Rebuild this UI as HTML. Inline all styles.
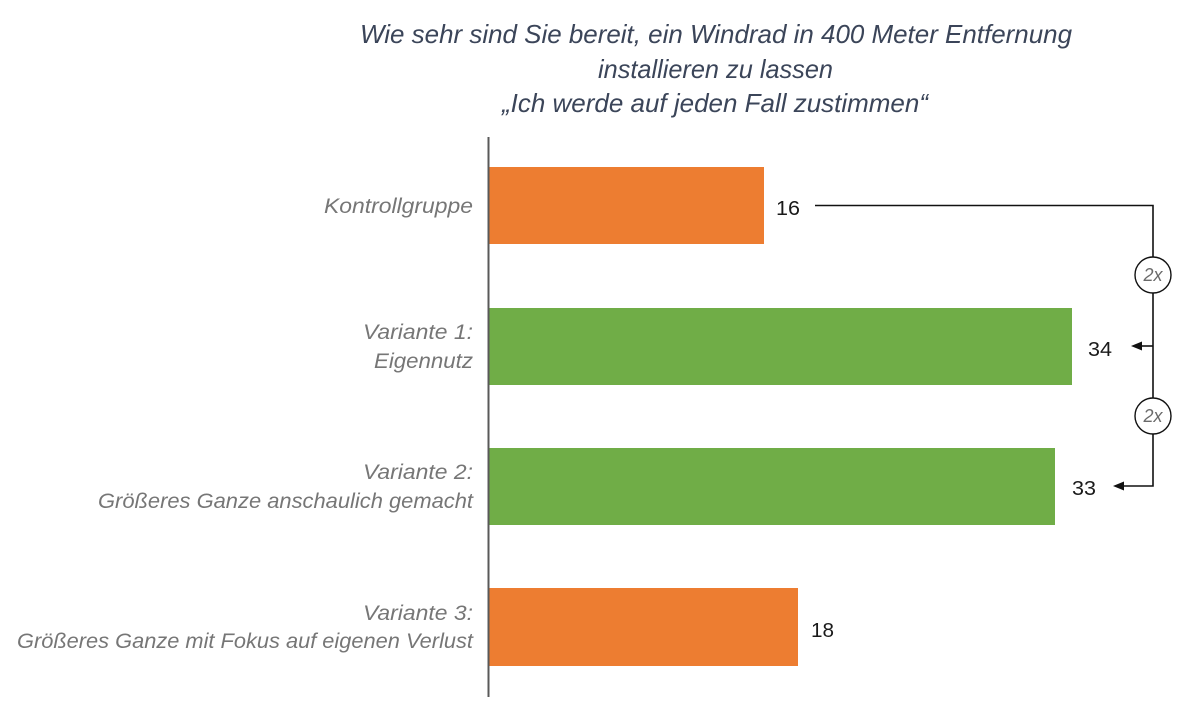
<!DOCTYPE html>
<html>
<head>
<meta charset="utf-8">
<style>
  html, body { margin: 0; padding: 0; background: #ffffff; }
  body { width: 1178px; height: 709px; overflow: hidden; }
  svg { display: block; }
  .title { font-family: "Liberation Sans", sans-serif; font-style: italic; font-size: 26px; fill: #3b4559; }
  .lab { font-family: "Liberation Sans", sans-serif; font-style: italic; font-size: 21px; fill: #767676; }
  .num { font-family: "Liberation Sans", sans-serif; font-size: 20px; fill: #1a1a1a; }
  .cx { font-family: "Liberation Sans", sans-serif; font-style: italic; font-size: 18px; fill: #6a6a6a; }
</style>
</head>
<body>
<svg width="1178" height="709" viewBox="0 0 1178 709" xmlns="http://www.w3.org/2000/svg">
  <rect x="0" y="0" width="1178" height="709" fill="#ffffff"/>

  <!-- Title -->
  <text class="title" x="360" y="43" textLength="712" lengthAdjust="spacingAndGlyphs">Wie sehr sind Sie bereit, ein Windrad in 400 Meter Entfernung</text>
  <text class="title" x="598" y="78" textLength="235" lengthAdjust="spacingAndGlyphs">installieren zu lassen</text>
  <text class="title" x="502" y="112" textLength="426" lengthAdjust="spacingAndGlyphs">„Ich werde auf jeden Fall zustimmen“</text>

  <!-- Bars -->
  <rect x="489" y="167" width="275" height="77" fill="#ED7D31"/>
  <rect x="489" y="308" width="583" height="77" fill="#70AD47"/>
  <rect x="489" y="448" width="566" height="77" fill="#70AD47"/>
  <rect x="489" y="588" width="309" height="78" fill="#ED7D31"/>

  <!-- Axis -->
  <line x1="488.5" y1="137" x2="488.5" y2="697" stroke="#595959" stroke-width="2"/>

  <!-- Category labels -->
  <text class="lab" x="473" y="213" text-anchor="end" textLength="149" lengthAdjust="spacingAndGlyphs">Kontrollgruppe</text>
  <text class="lab" x="473" y="339" text-anchor="end" textLength="110" lengthAdjust="spacingAndGlyphs">Variante 1:</text>
  <text class="lab" x="473" y="368" text-anchor="end" textLength="99" lengthAdjust="spacingAndGlyphs">Eigennutz</text>
  <text class="lab" x="473" y="479" text-anchor="end" textLength="110" lengthAdjust="spacingAndGlyphs">Variante 2:</text>
  <text class="lab" x="473" y="508" text-anchor="end" textLength="375" lengthAdjust="spacingAndGlyphs">Größeres Ganze anschaulich gemacht</text>
  <text class="lab" x="473" y="620" text-anchor="end" textLength="110" lengthAdjust="spacingAndGlyphs">Variante 3:</text>
  <text class="lab" x="473" y="648" text-anchor="end" textLength="456" lengthAdjust="spacingAndGlyphs">Größeres Ganze mit Fokus auf eigenen Verlust</text>

  <!-- Values -->
  <text class="num" x="776" y="215" textLength="24" lengthAdjust="spacingAndGlyphs">16</text>
  <text class="num" x="1088" y="356" textLength="24" lengthAdjust="spacingAndGlyphs">34</text>
  <text class="num" x="1072" y="495" textLength="24" lengthAdjust="spacingAndGlyphs">33</text>
  <text class="num" x="811" y="637" textLength="23" lengthAdjust="spacingAndGlyphs">18</text>

  <!-- Connector -->
  <polyline points="815,205.5 1153,205.5 1153,486 1122,486" fill="none" stroke="#111" stroke-width="1.6"/>
  <line x1="1153" y1="346" x2="1140" y2="346" stroke="#111" stroke-width="1.6"/>
  <polygon points="1131,346 1142,341.5 1142,350.5" fill="#111"/>
  <polygon points="1113,486 1124,481.5 1124,490.5" fill="#111"/>

  <circle cx="1153" cy="275" r="18" fill="#ffffff" stroke="#111" stroke-width="1.4"/>
  <text class="cx" x="1153" y="281" text-anchor="middle">2x</text>
  <circle cx="1153" cy="416" r="18" fill="#ffffff" stroke="#111" stroke-width="1.4"/>
  <text class="cx" x="1153" y="422" text-anchor="middle">2x</text>
</svg>
</body>
</html>
